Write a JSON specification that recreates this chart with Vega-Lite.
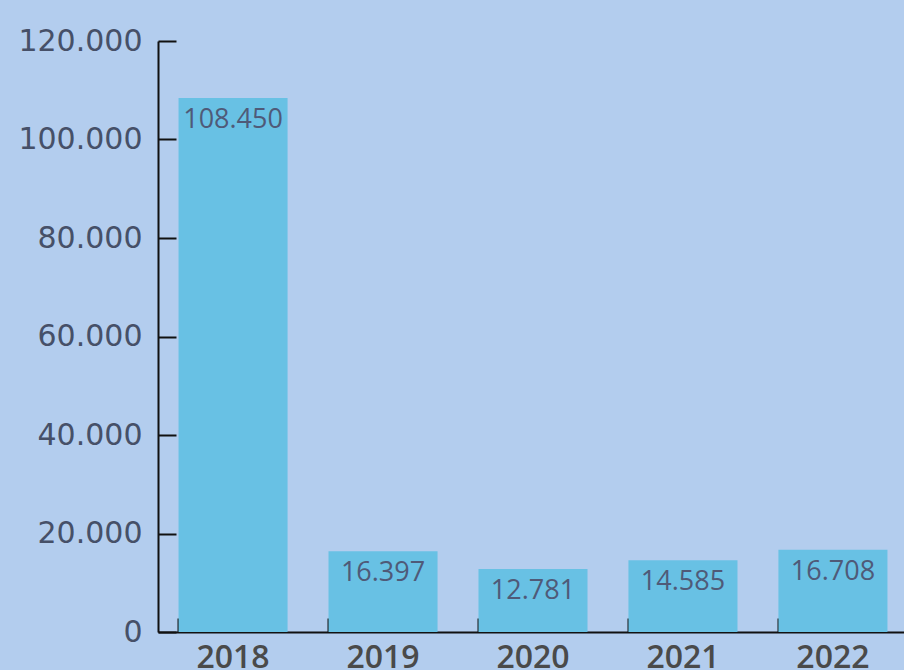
{
  "$schema": "https://vega.github.io/schema/vega-lite/v6.json",
  "width": 750,
  "height": 591,
  "autosize": {"type": "none"},
  "padding": {"left": 158, "top": 41, "right": 0, "bottom": 38},
  "background": "#b3cdee",
  "config": {
    "locale": {"number": {"decimal": ",", "thousands": ".", "grouping": [3], "currency": ["", " €"]}},
    "view": {"stroke": null}
  },
  "data": {
    "values": [
      {"year": "2018", "value": 108450},
      {"year": "2019", "value": 16397},
      {"year": "2020", "value": 12781},
      {"year": "2021", "value": 14585},
      {"year": "2022", "value": 16708}
    ]
  },
  "encoding": {
    "x": {
      "field": "year",
      "type": "nominal",
      "sort": null,
      "scale": {"paddingInner": 0.273, "paddingOuter": 0.137},
      "axis": {
        "title": null,
        "labelAngle": 0,
        "bandPosition": 0,
        "domainColor": "#111111",
        "domainWidth": 2,
        "tickColor": "#111111",
        "tickWidth": 2,
        "tickSize": -14,
        "labelPadding": 24,
        "labelFont": "Open Sans",
        "labelFontSize": 32,
        "labelFontWeight": 600,
        "labelColor": "#4a4a4a",
        "labelBaseline": "top"
      }
    },
    "y": {
      "field": "value",
      "type": "quantitative",
      "scale": {"domain": [0, 120000]},
      "axis": {
        "title": null,
        "values": [0, 20000, 40000, 60000, 80000, 100000, 120000],
        "format": ",d",
        "grid": false,
        "domainColor": "#111111",
        "domainWidth": 2,
        "tickColor": "#111111",
        "tickWidth": 2,
        "tickSize": -18,
        "labelPadding": 34,
        "labelFont": "DejaVu Sans",
        "labelFontSize": 30,
        "labelColor": "#465068"
      }
    }
  },
  "layer": [
    {"mark": {"type": "bar", "color": "#68c1e4"}},
    {
      "mark": {"type": "text", "baseline": "top", "dy": 9, "font": "Open Sans", "fontSize": 27, "color": "#4f5a78"},
      "encoding": {"text": {"field": "value", "type": "quantitative", "format": ",d"}}
    }
  ]
}
